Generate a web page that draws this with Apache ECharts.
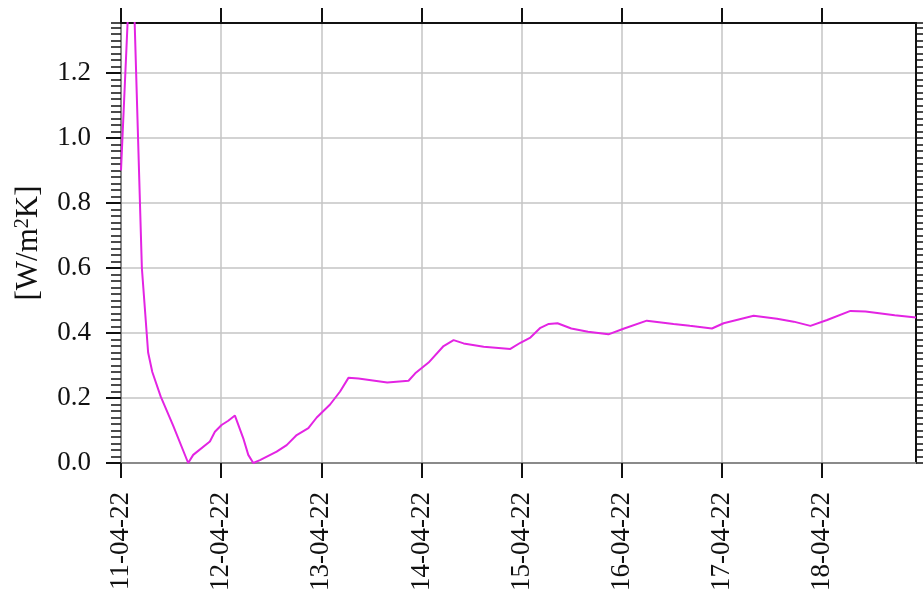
<!DOCTYPE html>
<html>
<head>
<meta charset="utf-8">
<script src="https://cdn.jsdelivr.net/npm/echarts@6/dist/echarts.min.js"></script>
<style>
  html, body { margin: 0; padding: 0; background: #fff; }
  #chart { width: 923px; height: 599px; }
</style>
</head>
<body>
<div id="chart"></div>
<script>
// start of the series, 11-04-22 00:00
const startDate = Date.UTC(2022, 3, 11);
const endHour = 190.5;
const yMax = 1.354;
const dayLabels = ['11-04-22', '12-04-22', '13-04-22', '14-04-22', '15-04-22', '16-04-22', '17-04-22', '18-04-22'];
const yTicks = [0, 0.2, 0.4, 0.6, 0.8, 1.0, 1.2];

// hours after start
const hours = [0, 2.6, 5.0, 6.5, 7.5, 9.5, 12.5, 16.1, 17.3, 21.3, 22.5, 24.1, 25.7, 27.3, 29.3, 30.5, 31.7,
  33.3, 37.3, 39.7, 42.1, 44.9, 46.9, 50.1, 52.5, 54.5, 56.9, 63.8, 68.9, 70.5, 73.7, 77.3, 79.7, 82.1,
  86.9, 93.3, 95.7, 98.1, 100.5, 102.5, 104.6, 107.9, 111.9, 116.8, 120.4, 126.0, 132.4, 136.3, 141.6,
  144.4, 151.6, 157.2, 161.2, 165.2, 169.2, 174.8, 178.4, 185.4, 190.5];
// [W/m2K]
const values = [0.90, 1.65, 0.60, 0.34, 0.28, 0.205, 0.115, 0.0, 0.025, 0.066, 0.096, 0.117, 0.13, 0.146, 0.076, 0.025, 0.0,
  0.009, 0.035, 0.055, 0.086, 0.107, 0.14, 0.18, 0.22, 0.262, 0.26, 0.248, 0.253, 0.276, 0.309, 0.36, 0.378, 0.368,
  0.358, 0.351, 0.370, 0.386, 0.416, 0.428, 0.43, 0.414, 0.404, 0.396, 0.413, 0.438, 0.428, 0.422, 0.414,
  0.43, 0.453, 0.444, 0.435, 0.422, 0.44, 0.468, 0.466, 0.455, 0.448];

const H = 3600000;
const dayTicks = dayLabels.map((d, i) => startDate + i * 24 * H);
const seriesData = hours.map((h, i) => [startDate + h * H, values[i]]);

const serif = 'Liberation Serif';
const myChart = echarts.init(document.getElementById('chart'));

const option = {
  animation: false,
  grid: { left: 121, right: 7, top: 23, bottom: 136, outerBoundsMode: 'none', containLabel: false },
  xAxis: [
    {
      type: 'value',
      position: 'bottom',
      min: startDate,
      max: startDate + endHour * H,
      axisLine: { show: true, onZero: false, lineStyle: { color: '#8a8a8a', width: 2 } },
      axisTick: { show: true, customValues: dayTicks, length: 15, lineStyle: { color: '#111', width: 2 } },
      axisLabel: {
        customValues: dayTicks,
        rotate: 90,
        margin: 29,
        fontFamily: serif,
        fontSize: 27,
        color: '#111',
        formatter: function (v) {
          return dayLabels[Math.round((v - startDate) / (24 * H))];
        },
      },
      splitLine: { show: true, lineStyle: { color: '#c4c4c4', width: 1.5 } },
    },
    {
      type: 'value',
      position: 'top',
      min: startDate,
      max: startDate + endHour * H,
      axisLine: { show: true, onZero: false, lineStyle: { color: '#111', width: 2 } },
      axisTick: { show: true, customValues: dayTicks, length: 15, lineStyle: { color: '#111', width: 2 } },
      axisLabel: { show: false },
      splitLine: { show: false },
    },
  ],
  yAxis: [
    {
      type: 'value',
      position: 'left',
      min: 0,
      max: yMax,
      axisLine: { show: true, onZero: false, lineStyle: { color: '#8a8a8a', width: 2 } },
      axisTick: { show: true, customValues: yTicks, length: 15, lineStyle: { color: '#111', width: 2 } },
      axisLabel: {
        customValues: yTicks,
        margin: 30,
        fontFamily: serif,
        fontSize: 27,
        color: '#111',
        formatter: (v) => v.toFixed(1),
      },
      splitLine: { show: true, lineStyle: { color: '#c4c4c4', width: 1.5 } },
      name: '[W/m{sup|2}K]',
      nameLocation: 'middle',
      nameRotate: 90,
      nameGap: 77,
      nameTextStyle: {
        fontFamily: serif,
        fontSize: 31,
        color: '#111',
        rich: {
          sup: { fontFamily: serif, fontSize: 20, color: '#111', verticalAlign: 'top', lineHeight: 20 },
        },
      },
    },
    {
      // minor ticks, left side
      type: 'value',
      position: 'left',
      min: 0,
      max: yMax,
      interval: 0.02,
      axisLine: { show: false, onZero: false },
      axisTick: { show: true, length: 10, lineStyle: { color: '#111', width: 1.5 } },
      axisLabel: { show: false },
      splitLine: { show: false },
    },
    {
      // minor ticks, right side
      type: 'value',
      position: 'right',
      min: 0,
      max: yMax,
      interval: 0.02,
      axisLine: { show: true, onZero: false, lineStyle: { color: '#111', width: 2 } },
      axisTick: { show: true, length: 8, lineStyle: { color: '#111', width: 1.5 } },
      axisLabel: { show: false },
      splitLine: { show: false },
    },
  ],
  series: [
    {
      type: 'line',
      xAxisIndex: 0,
      yAxisIndex: 0,
      data: seriesData,
      showSymbol: false,
      clip: true,
      lineStyle: { color: '#e324e3', width: 2 },
    },
  ],
};
myChart.setOption(option);
</script>
</body>
</html>
